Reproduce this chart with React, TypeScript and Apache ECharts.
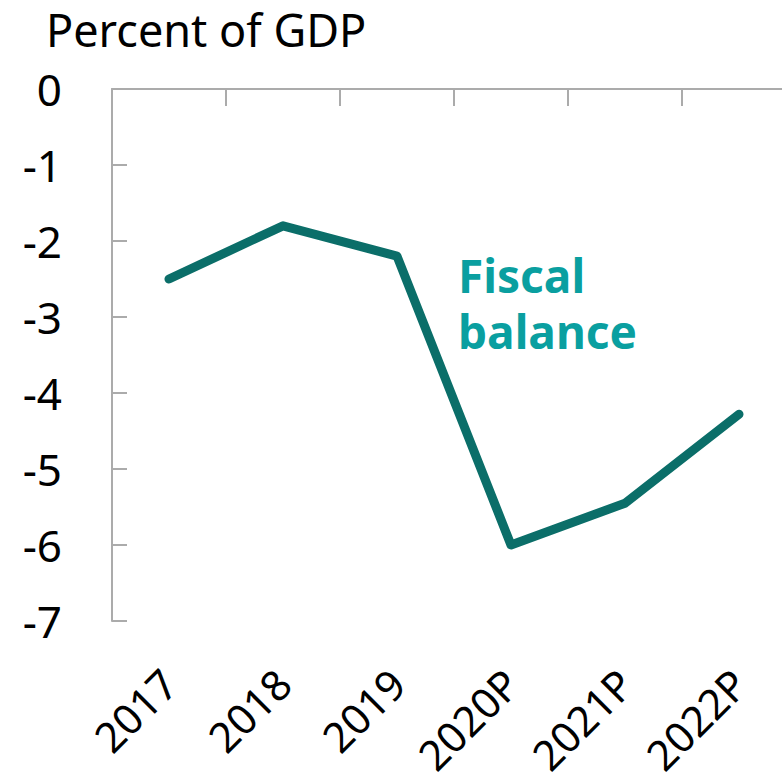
import React, { useEffect, useRef } from "react";
import * as echarts from "echarts";

const categories = ["2017", "2018", "2019", "2020P", "2021P", "2022P"];
const fiscalBalance = [-2.5, -1.8, -2.2, -6.0, -5.45, -4.28];
const yTicks = { min: -7, max: 0, interval: 1 };
const titleText = "Percent of GDP";
const seriesLabel = "Fiscal\nbalance";

const FONT = "'Noto Sans', 'Open Sans', sans-serif";

export default function App() {
  const ref = useRef<HTMLDivElement>(null);
  useEffect(() => {
    document.body.style.margin = "0";
    if (!ref.current) return;
    const chart = echarts.init(ref.current, null, { renderer: "svg" });
    chart.setOption({
      animation: false,
      textStyle: { fontFamily: FONT },
      title: {
        text: titleText,
        left: 46,
        top: 7,
        padding: 0,
        textStyle: { fontSize: 45, fontWeight: "normal", color: "#000", fontFamily: FONT },
      },
      grid: {
        left: 112,
        top: 89,
        right: -14,
        bottom: 163,
        containLabel: false,
        outerBoundsMode: "none",
      },
      xAxis: [
        {
          type: "category",
          position: "top",
          data: categories,
          boundaryGap: true,
          axisLine: { show: true, lineStyle: { color: "#ababab", width: 2 } },
          axisTick: { show: true, inside: true, length: 17, lineStyle: { color: "#ababab", width: 2 } },
          axisLabel: { show: false },
          splitLine: { show: false },
        },
        {
          type: "category",
          position: "bottom",
          data: categories,
          boundaryGap: true,
          axisLine: { show: false, onZero: false },
          axisTick: { show: false },
          axisLabel: {
            show: true,
            rotate: 45,
            margin: 55,
            fontSize: 42,
            color: "#000",
            fontFamily: FONT,
          },
          splitLine: { show: false },
        },
      ],
      yAxis: {
        type: "value",
        min: yTicks.min,
        max: yTicks.max,
        interval: yTicks.interval,
        axisLine: { show: true, lineStyle: { color: "#ababab", width: 2 } },
        axisTick: { show: true, inside: true, length: 15, lineStyle: { color: "#ababab", width: 2 } },
        axisLabel: { show: true, margin: 50, fontSize: 44, color: "#000", fontFamily: FONT },
        splitLine: { show: false },
      },
      series: [
        {
          type: "line",
          xAxisIndex: 0,
          data: fiscalBalance,
          symbol: "none",
          lineStyle: { color: "#0b6e69", width: 9, cap: "round", join: "round" },
        },
      ],
      graphic: [
        {
          type: "text",
          left: 458,
          top: 247,
          style: {
            text: seriesLabel,
            fontSize: 46,
            fontWeight: "bold",
            lineHeight: 56,
            fill: "#0a9fa0",
            fontFamily: FONT,
          },
        },
      ],
    });
    return () => chart.dispose();
  }, []);
  return <div ref={ref} style={{ width: 782, height: 784 }} />;
}
